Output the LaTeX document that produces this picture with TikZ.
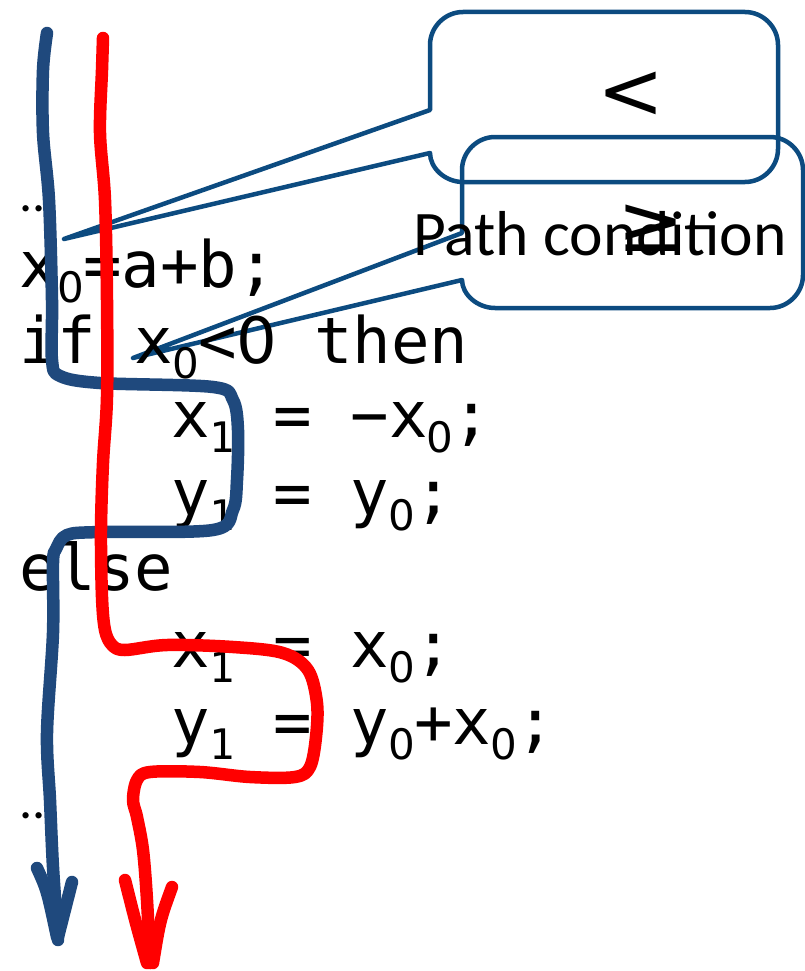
\documentclass[tikz,border=0pt]{standalone}
\usepackage{fontspec}
\newfontfamily\codefont{DejaVu Sans Mono}
\newfontfamily\labelfont{Carlito}
\newfontfamily\symfont{DejaVu Sans}
\definecolor{pathblue}{RGB}{31,73,125}
\definecolor{calloutblue}{RGB}{12,75,128}
% plain (undotted) zero, one character cell wide
\newcommand\plainzero{\makebox[0.602em][c]{\symfont 0}}
% lowered, smaller index digit for the variable versions
\newcommand\lowidx[1]{\raisebox{-15pt}{\fontsize{42}{42}\selectfont #1}}
\begin{document}
\begin{tikzpicture}[x=1pt,y=-1pt,
  code/.style={anchor=base west, inner sep=0pt, font=\codefont\fontsize{64}{64}\selectfont},
  dotsline/.style={anchor=base west, inner sep=0pt, font=\labelfont\fontsize{52}{52}\selectfont},
  label/.style={anchor=base west, inner sep=0pt, font=\labelfont\fontsize{63.5}{63.5}\selectfont},
  relsym/.style={anchor=center, inner sep=0pt, font=\symfont\fontsize{80}{80}\selectfont},
  callout/.style={draw=calloutblue, line width=4.5pt, line join=round},
  route/.style={line width=12.5pt, line cap=round, line join=round}]

\fill[white] (0,0) rectangle (805,971);
\useasboundingbox (0,0) rectangle (805,971);

% callout boxes with their pointers
\draw[callout] (64,239) -- (430,110) -- (430,45)
  .. controls (430,27) and (445,12) .. (463,12) -- (745,12)
  .. controls (763,12) and (778,27) .. (778,45) -- (778,149)
  .. controls (778,167) and (763,182) .. (745,182) -- (463,182)
  .. controls (445,182) and (430,168) .. (430,153) -- cycle;
\draw[callout] (133,358) -- (462,233) -- (462,170)
  .. controls (462,152) and (477,137) .. (495,137) -- (770,137)
  .. controls (788,137) and (803,152) .. (803,170) -- (803,275)
  .. controls (803,293) and (788,308) .. (770,308) -- (495,308)
  .. controls (477,308) and (462,294) .. (462,280) -- cycle;

% callout texts
\node[relsym] (lt) at (631,95) {<};
\node[relsym] (ge) at (651,228) {≥};
\node[label] (pc) at (413,255) {Path condition};

% program text
\node[dotsline] (d1) at (19,211) {..};
\node[code] (l1) at (19,287) {x\lowidx{\plainzero}=a+b;};
\node[code] (l2) at (19,363) {if x\lowidx{\plainzero}<\plainzero{} then};
\node[code] (l3) at (171,437) {x\lowidx{1} = −x\lowidx{\plainzero};};
\node[code] (l4) at (171,515) {y\lowidx{1} = y\lowidx{\plainzero};};
\node[code] (l5) at (19,590) {else};
\node[code] (l6) at (171,667) {x\lowidx{1} = x\lowidx{\plainzero};};
\node[code] (l7) at (171,744) {y\lowidx{1} = y\lowidx{\plainzero}+x\lowidx{\plainzero};};
\node[dotsline] (d2) at (19,818) {..};

% then-branch execution path
\draw[route, pathblue] plot[smooth, tension=0.55] coordinates {
  (47,33) (43,70) (43,133) (49,200) (52,300) (52,360) (60,376) (100,383)
  (213,387) (233,400) (238,430) (237,480) (233,510) (213,530) (100,532)
  (67,535) (56,549) (53,563) (53,633) (47,733) (50,800) (53,867) (58,940)};
\draw[route, pathblue] (37,868) .. controls (47,890) .. (57,937);
\draw[route, pathblue] (72,882) -- (58,937);

% else-branch execution path
\draw[route, red] plot[smooth, tension=0.55] coordinates {
  (103,38) (102,70) (100,133) (105,200) (107,300) (107,397) (103,463)
  (101,530) (102,597) (105,630) (112,645) (125,650) (167,645) (233,647)
  (283,653) (308,670) (317,703) (316,737) (310,767) (295,777) (250,777)
  (200,772) (150,772) (137,780) (133,800) (137,817) (143,850) (147,900)
  (150,963)};
\draw[route, red] (125,880) .. controls (135,920) .. (147,963);
\draw[route, red] (172,887) .. controls (160,920) .. (153,963);
\end{tikzpicture}
\end{document}
